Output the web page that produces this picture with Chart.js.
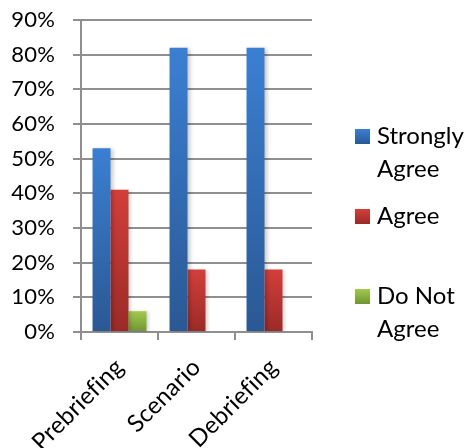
<!DOCTYPE html>
<html>
<head>
<meta charset="utf-8">
<script src="https://cdn.jsdelivr.net/npm/chart.js@4/dist/chart.umd.min.js"></script>
<style>
  html, body { margin: 0; padding: 0; background: #fff; }
  #wrap { position: relative; width: 465px; height: 448px; overflow: hidden; }
  #c { position: absolute; left: 0; top: 0; }
  #legend { position: absolute; left: 355px; top: 0; font-family: Lato, "Open Sans", sans-serif; font-size: 24px; color: #000; }
  .item { position: absolute; left: 0; width: 110px; }
  .sw { position: absolute; left: 0; width: 15px; height: 15px; }
  .tx { position: absolute; left: 22px; line-height: 33px; white-space: nowrap; }
</style>
</head>
<body>
<div id="wrap">
  <canvas id="c" width="465" height="448"></canvas>
  <div id="legend"></div>
</div>
<script>
const categories = ["Prebriefing", "Scenario", "Debriefing"];
const seriesNames = ["Strongly Agree", "Agree", "Do Not Agree"];
const stronglyAgree = [53, 82, 82];
const agree = [41, 18, 18];
const doNotAgree = [6, 0, 0];
const yTicks = [0, 10, 20, 30, 40, 50, 60, 70, 80, 90];

const colorTop = ["#3b7fd2", "#d33f3a", "#a2c94d"];
const colorBot = ["#2a5894", "#9a2a27", "#6f9433"];
const legendLines = [["Strongly", "Agree"], ["Agree"], ["Do Not", "Agree"]];

function grad(i) {
  return function(ctx) {
    const chart = ctx.chart;
    if (ctx.type !== 'data' || !chart.chartArea) return colorTop[i];
    const ys = chart.scales.y;
    const v = ctx.parsed ? ctx.parsed.y : ctx.raw;
    const top = ys.getPixelForValue(v);
    const bot = ys.getPixelForValue(0);
    if (!isFinite(top) || !isFinite(bot) || top === bot) return colorTop[i];
    const g = chart.ctx.createLinearGradient(0, top, 0, bot);
    g.addColorStop(0, colorTop[i]);
    g.addColorStop(1, colorBot[i]);
    return g;
  };
}

const seriesData = [stronglyAgree, agree, doNotAgree];
const datasets = seriesNames.map((n, i) => ({
  label: n,
  data: seriesData[i],
  backgroundColor: grad(i),
  borderWidth: 0,
  categoryPercentage: 0.7,
  barPercentage: 1.0
}));

const FONT_Y = { family: 'Lato, "Open Sans", sans-serif', size: 22 };
const FONT_X = { family: 'Lato, "Open Sans", sans-serif', size: 24 };
const GRID = '#8f8f8f';

const noLig = {
  id: 'noLig',
  beforeDraw(chart) {
    try { chart.ctx.textRendering = 'optimizeSpeed'; } catch (e) {}
    try { chart.ctx.letterSpacing = '0.2px'; } catch (e) {}
  },
  beforeDatasetsDraw(chart) {
    const c = chart.ctx;
    c.save();
    c.shadowColor = 'rgba(0,0,0,0.22)';
    c.shadowBlur = 4;
    c.shadowOffsetX = 2;
    c.shadowOffsetY = 1;
  },
  afterDatasetsDraw(chart) {
    chart.ctx.restore();
  }
};

new Chart(document.getElementById('c'), {
  type: 'bar',
  data: { labels: categories, datasets },
  plugins: [noLig],
  options: {
    responsive: false,
    animation: false,
    devicePixelRatio: 1,
    layout: { padding: { top: 20, right: 153, left: 0, bottom: 0 } },
    plugins: { legend: { display: false }, tooltip: { enabled: false } },
    scales: {
      x: {
        offset: true,
        grid: { display: true, offset: true, drawOnChartArea: false, color: GRID, lineWidth: 2, tickLength: 8 },
        border: { color: GRID, width: 2 },
        ticks: { font: FONT_X, color: '#000', minRotation: 45, maxRotation: 45, padding: 13, autoSkip: false },
        afterFit: (s) => { s.height = 116; }
      },
      y: {
        min: 0, max: 90,
        afterBuildTicks: (s) => { s.ticks = yTicks.map(v => ({ value: v })); },
        grid: { color: GRID, lineWidth: 2, tickLength: 8 },
        border: { color: GRID, width: 2 },
        ticks: { font: FONT_Y, color: '#000', padding: 18, callback: (v) => v + '%' },
        afterFit: (s) => { s.width = 81; s.paddingTop = 12; s.paddingBottom = 12; }
      }
    }
  }
});

const leg = document.getElementById('legend');
const tops = [129, 209, 289];
seriesNames.forEach((n, i) => {
  const it = document.createElement('div');
  it.className = 'item';
  it.style.top = tops[i] + 'px';
  const sw = document.createElement('div');
  sw.className = 'sw';
  sw.style.top = '0px';
  sw.style.background = 'linear-gradient(' + colorTop[i] + ',' + colorBot[i] + ')';
  const tx = document.createElement('div');
  tx.className = 'tx';
  tx.style.top = '-11px';
  tx.innerHTML = legendLines[i].join('<br>');
  tx.setAttribute('title', n);
  it.appendChild(sw);
  it.appendChild(tx);
  leg.appendChild(it);
});
</script>
</body>
</html>
